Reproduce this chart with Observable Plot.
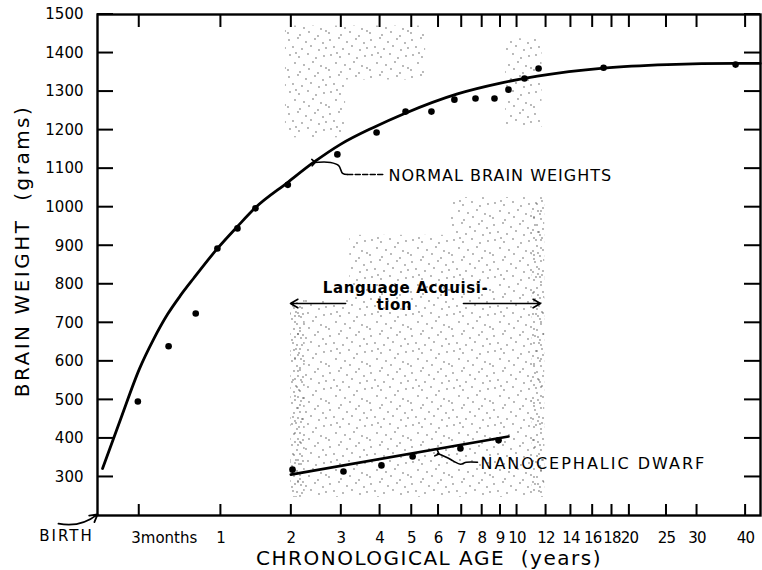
<!DOCTYPE html>
<html><head><meta charset="utf-8">
<script src="https://cdn.jsdelivr.net/npm/d3@7"></script>
<script src="https://cdn.jsdelivr.net/npm/@observablehq/plot@0.6"></script>
<style>
body{margin:0;background:#fff;}
#chart svg{display:block;}
</style></head><body><div id="chart"></div>
<script>
// ---- data (age in years, brain weight in grams) ----
const curveAge    = [0.012, 0.122, 0.252, 0.357, 0.471, 0.585, 0.708, 0.961, 1.2, 1.441, 1.935, 2.408, 2.981, 3.814, 4.721, 6.807, 9, 11.37, 17.09, 25.15, 37.68, 43.6];
const curveWeight = [322, 449, 581, 657, 722, 771, 815, 893, 950, 999, 1064, 1116, 1163, 1207, 1242, 1294, 1322, 1340, 1361, 1370, 1373, 1373];

const normalAge    = [0.24, 0.48, 0.73, 0.96, 1.2, 1.44, 1.94, 2.91, 3.9, 4.79, 5.72, 6.67, 7.66, 8.66, 9.47, 10.48, 11.45, 17.1, 37.7];
const normalWeight = [496, 639, 724, 893, 945, 997, 1058, 1137, 1194, 1248, 1248, 1279, 1282, 1282, 1305, 1334, 1360, 1362, 1370];

const dwarfAge    = [2.02, 3.05, 4.04, 5.03, 6.94, 8.89];
const dwarfWeight = [319, 314, 330, 353, 374, 395];
const dwarfFitAge    = [1.99, 9.47];
const dwarfFitWeight = [306, 405];

// language acquisition stippled zones (age range, weight range)
const stippleAgeFrom = [1.9, 3.1, 9.3, 1.99, 6.5, 3.2, 1.99, 11.0];
const stippleAgeTo   = [3.1, 5.5, 11.7, 11.9, 11.9, 6.5, 2.25, 11.9];
const stippleWtFrom  = [1180, 1330, 1207, 247, 758, 758, 247, 247];
const stippleWtTo    = [1470, 1470, 1437, 758, 1025, 927, 758, 1025];
const stippleDense   = [0, 0, 0, 0, 0, 0, 1, 1];

const xTickAges   = [0.25, 1, 2, 3, 4, 5, 6, 7, 8, 9, 10, 12, 14, 16, 18, 20, 25, 30, 40];
const xTickLabels = ["3months", "1", "2", "3", "4", "5", "6", "7", "8", "9", "10", "12", "14", "16", "18", "20", "25", "30", "40"];
const yTicks = [300, 400, 500, 600, 700, 800, 900, 1000, 1100, 1200, 1300, 1400, 1500];

// annotations (data coordinates)
const normalLeaderAge = [2.41, 2.76, 2.94, 3.03, 3.15];
const normalLeaderWt  = [1116, 1116, 1108, 1088, 1085];
const normalDashAge = [3.15, 4.1];
const normalDashWt  = [1085, 1085];
const dwarfLeaderAge = [5.96, 6.37, 6.63, 6.94, 7.22, 7.76];
const dwarfLeaderWt  = [361, 350, 341, 333, 338, 338];

// layout
const W = 762, H = 570, mL = 97, mR = 2, mT = 14, mB = 55;

// the age axis is logarithmic in (age + 1 year)
const X = a => a + 1;
const idx = n => d3.range(n);
const xDomain = [X(-0.0171), X(43.67)];
const yDomain = [200, 1500];

// inward tick marks on all four sides, as thin filled bars (pixel sizes converted through the same scales)
const xs = d3.scaleLog().domain(xDomain).range([mL, W - mR]);
const ys = d3.scaleLinear().domain(yDomain).range([H - mB, mT]);
const halfY = (yDomain[1] - yDomain[0]) / (H - mT - mB) * 1.0;
const tickBars = [];
yTicks.forEach(t => {
  tickBars.push({x1: xDomain[0], x2: xs.invert(mL + 16), y1: t - halfY, y2: t + halfY});
  tickBars.push({x1: xs.invert(W - mR - 16), x2: xDomain[1], y1: t - halfY, y2: t + halfY});
});
xTickAges.forEach(a => {
  const px = xs(X(a));
  tickBars.push({x1: xs.invert(px - 1), x2: xs.invert(px + 1), y1: yDomain[0], y2: ys.invert(H - mB - 11)});
  tickBars.push({x1: xs.invert(px - 1), x2: xs.invert(px + 1), y1: ys.invert(mT + 13), y2: yDomain[1]});
});

const chart = Plot.plot({
  width: W, height: H,
  marginLeft: mL, marginRight: mR, marginTop: mT, marginBottom: mB,
  style: {fontFamily: "'DejaVu Sans', sans-serif", fontSize: "15px"},
  x: {type: "log", domain: xDomain, axis: null},
  y: {type: "linear", domain: yDomain, axis: null},
  marks: [
    Plot.rect(idx(stippleAgeFrom.length), {
      x1: i => X(stippleAgeFrom[i]), x2: i => X(stippleAgeTo[i]),
      y1: i => stippleWtFrom[i], y2: i => stippleWtTo[i],
      fill: i => stippleDense[i] ? "url(#stipple2)" : "url(#stipple)"
    }),
    // tick labels
    Plot.text(yTicks, {y: d => d, text: d => String(d), frameAnchor: "left", textAnchor: "end", lineAnchor: "middle", dx: -14, fontSize: 15}),
    Plot.text(idx(xTickAges.length).slice(1), {x: i => X(xTickAges[i]), text: i => xTickLabels[i], frameAnchor: "bottom", textAnchor: "middle", lineAnchor: "middle", dy: 23, fontSize: 15}),
    Plot.text([0], {x: X(xTickAges[0]), text: () => xTickLabels[0], frameAnchor: "bottom", textAnchor: "start", lineAnchor: "middle", dx: -8, dy: 23, fontSize: 15}),
    // axis titles
    Plot.text(["BRAIN WEIGHT  (grams)"], {frameAnchor: "left", textAnchor: "middle", lineAnchor: "middle", rotate: -90, dx: -75, dy: -14, fontSize: 20}),
    Plot.text(["CHRONOLOGICAL AGE  (years)"], {frameAnchor: "bottom", textAnchor: "middle", lineAnchor: "middle", dy: 43, fontSize: 20}),
    Plot.text(["BIRTH"], {frameAnchor: "bottom-left", textAnchor: "middle", lineAnchor: "middle", dx: -31, dy: 21, fontSize: 15}),
    Plot.arrow([0], {x1: X(-0.215), y1: 179, x2: X(-0.017), y2: 203, bend: -25, strokeWidth: 1.8, headLength: 7, stroke: "#000"}),

    // normal brain weights
    Plot.line(idx(curveAge.length), {x: i => X(curveAge[i]), y: i => curveWeight[i], curve: "monotone-x", strokeWidth: 2.8, stroke: "#000"}),
    Plot.dot(idx(normalAge.length), {x: i => X(normalAge[i]), y: i => normalWeight[i], r: 3.3, fill: "#000"}),

    // nanocephalic dwarf
    Plot.line(idx(dwarfFitAge.length), {x: i => X(dwarfFitAge[i]), y: i => dwarfFitWeight[i], strokeWidth: 2.6, stroke: "#000"}),
    Plot.dot(idx(dwarfAge.length), {x: i => X(dwarfAge[i]), y: i => dwarfWeight[i], r: 3.3, fill: "#000"}),

    // annotations
    Plot.line(idx(normalLeaderAge.length), {x: i => X(normalLeaderAge[i]), y: i => normalLeaderWt[i], curve: "catmull-rom", strokeWidth: 1.6, stroke: "#000", markerStart: "arrow"}),
    Plot.line(idx(2), {x: i => X(normalDashAge[i]), y: i => normalDashWt[i], strokeWidth: 1.6, stroke: "#000", strokeDasharray: "5,2.5"}),
    Plot.text(["NORMAL BRAIN WEIGHTS"], {x: X(4.25), y: 1080, textAnchor: "start", lineAnchor: "middle", fontSize: 16}),

    Plot.line(idx(dwarfLeaderAge.length), {x: i => X(dwarfLeaderAge[i]), y: i => dwarfLeaderWt[i], curve: "catmull-rom", strokeWidth: 1.6, stroke: "#000", markerStart: "arrow"}),
    Plot.text(["NANOCEPHALIC DWARF"], {x: X(7.91), y: 335, textAnchor: "start", lineAnchor: "middle", fontSize: 16}),

    Plot.text(["Language Acquisi-"], {x: X(4.79), y: 790, fontSize: 15, fontWeight: "bold", lineAnchor: "middle"}),
    Plot.text(["tion"], {x: X(4.43), y: 745, fontSize: 15, fontWeight: "bold", lineAnchor: "middle"}),
    Plot.arrow([0], {x1: X(3.1), y1: 750, x2: X(1.985), y2: 750, strokeWidth: 1.6, headLength: 8, stroke: "#000"}),
    Plot.arrow([0], {x1: X(7.08), y1: 750, x2: X(11.59), y2: 750, strokeWidth: 1.6, headLength: 8, stroke: "#000"}),

    // frame and inward ticks drawn last so nothing sits on top of them
    Plot.rect(tickBars, {x1: "x1", x2: "x2", y1: "y1", y2: "y2", fill: "#000"}),
    Plot.frame({stroke: "#000", strokeWidth: 2.4})
  ]
});

// letter spacing of the hand lettering
const spacing = new Map([
  ["BRAIN WEIGHT  (grams)", 2.5], ["CHRONOLOGICAL AGE  (years)", 1.5], ["BIRTH", 2],
  ["NORMAL BRAIN WEIGHTS", 1.0], ["NANOCEPHALIC DWARF", 2.0], ["Language Acquisi-", 0.6], ["tion", 0.6],
  ["10", -0.8], ["12", -0.8], ["14", -0.8], ["16", -0.8], ["18", -0.8], ["20", -0.8], ["25", -0.8], ["30", -0.8], ["40", -0.8]
]);
d3.select(chart).selectAll("text").each(function() {
  const s = spacing.get(this.textContent);
  if (s != null) this.setAttribute("letter-spacing", s + "px");
});

const sparsePts = [[2,3],[11,1],[19,5],[28,2],[36,6],[6,10],[15,12],[24,9],[32,13],[39,11],[3,18],[12,20],[21,17],[29,21],[37,19],[8,26],[17,28],[26,25],[34,29],[1,33],[13,35],[22,32],[31,36],[39,31],[9,16]];
const densePts = [[2,2],[9,1],[16,4],[21,9],[5,7],[12,9],[18,14],[1,13],[8,15],[14,19],[22,19],[4,20],[11,4],[19,1]];
const dotsSvg = pts => pts.map(([x, y]) => `<circle cx="${x}" cy="${y}" r="0.65"/>`).join("");
const ns = "http://www.w3.org/2000/svg";
const defs = document.createElementNS(ns, "defs");
defs.innerHTML = `<pattern id="stipple" patternUnits="userSpaceOnUse" width="41" height="37"><g fill="#3a3a3a">${dotsSvg(sparsePts)}</g></pattern>
  <pattern id="stipple2" patternUnits="userSpaceOnUse" width="23" height="21"><g fill="#3a3a3a">${dotsSvg(densePts)}</g></pattern>`;
chart.insertBefore(defs, chart.firstChild);
document.getElementById("chart").appendChild(chart);
</script>
</body></html>
